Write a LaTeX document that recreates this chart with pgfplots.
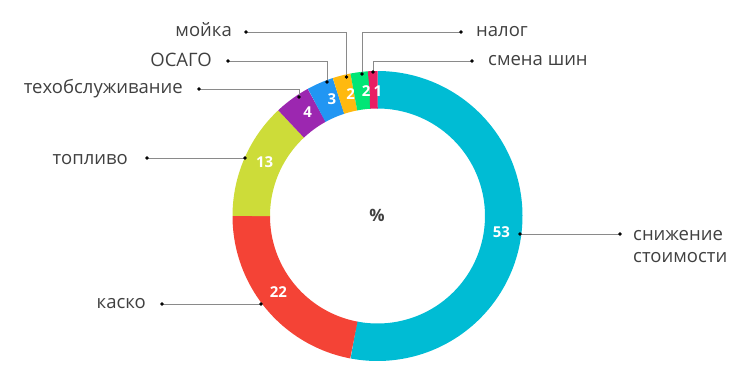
\documentclass[border=0pt]{standalone}
\usepackage{fontspec}
\setmainfont{Open Sans}
\usepackage{pgfplots}
\pgfplotsset{compat=1.18}
\definecolor{cA}{HTML}{00BCD4}
\definecolor{cB}{HTML}{F44336}
\definecolor{cC}{HTML}{CDDC39}
\definecolor{cD}{HTML}{9C27B0}
\definecolor{cE}{HTML}{2196F3}
\definecolor{cF}{HTML}{FFB90F}
\definecolor{cG}{HTML}{00E676}
\definecolor{cH}{HTML}{E91E63}
\definecolor{txt}{HTML}{404040}
\definecolor{lead}{HTML}{8A8A8A}
\def\donutcx{377.5}
\def\donutcy{162}
\tikzset{
  numlabel/.style={font=\fontsize{15}{17}\selectfont\bfseries,text=white,inner sep=0pt},
  lab/.style={font=\fontsize{18.5}{22}\selectfont,text=txt,inner sep=0pt}}
\pgfplotsset{leader/.style={lead,line width=0.7pt,mark=*,mark size=1.4pt,mark options={black,draw=black}}}
\begin{document}
\begin{tikzpicture}
\begin{axis}[width=741pt,height=378pt,scale only axis,
  xmin=0,xmax=741,ymin=0,ymax=378,hide axis,clip=false]
\path (rel axis cs:0,0) rectangle (rel axis cs:1,1);
% slices: value / colour, clockwise from the top
\def\cum{0}
\pgfplotsforeachungrouped \sv/\sc in {53/cA,22/cB,13/cC,4/cD,3/cE,2/cF,2/cG,1/cH}{%
  \pgfmathsetmacro\aS{90-3.6*(\cum+\sv)}%
  \pgfmathsetmacro\aE{90-3.6*\cum}%
  \edef\tmp{\noexpand\addplot[draw=\sc,line width=37.5pt,domain=\aS:\aE,samples=120]
    ({\donutcx+126.25*cos(x)},{\donutcy+126.25*sin(x)});}%
  \tmp
  \pgfmathsetmacro\cum{\cum+\sv}%
}
\def\cum{0}
\pgfplotsforeachungrouped \sv in {53,22,13,4,3,2,2,1}{%
  \pgfmathsetmacro\aM{90-3.6*(\cum+\sv/2)-2}%
  \pgfmathsetmacro\lx{\donutcx+125*cos(\aM)}%
  \pgfmathsetmacro\ly{\donutcy+125*sin(\aM)}%
  \edef\tmp{\noexpand\node[numlabel] at (axis cs:\lx,\ly) {\sv};}%
  \tmp
  \pgfmathsetmacro\cum{\cum+\sv}%
}
% leader lines
\addplot[leader,mark indices={1,3}] coordinates {(246,346)(346.5,346)(346.5,301)};
\addplot[leader,mark indices={1,3}] coordinates {(228,317)(327,317)(327,296)};
\addplot[leader,mark indices={1,3}] coordinates {(199,289)(299,289)(299,281)};
\addplot[leader,mark indices={1,3}] coordinates {(461,346)(362,346)(362,304)};
\addplot[leader,mark indices={1,3}] coordinates {(472,317)(373,317)(373,306)};
\addplot[leader] coordinates {(147,220)(245,220)};
\addplot[leader] coordinates {(162,74)(261,74)};
\addplot[leader] coordinates {(520,144)(620,144)};
% labels
\node[lab,anchor=base east] at (axis cs:232,341) {мойка};
\node[lab,anchor=base east] at (axis cs:212,311.5) {ОСАГО};
\node[lab,anchor=base east] at (axis cs:183,284.5) {техобслуживание};
\node[lab,anchor=base east] at (axis cs:128,214) {топливо};
\node[lab,anchor=base east] at (axis cs:146,70) {каско};
\node[lab,anchor=base west] at (axis cs:476,341) {налог};
\node[lab,anchor=base west] at (axis cs:488,312) {смена шин};
\node[lab,anchor=base west] at (axis cs:633,138) {снижение};
\node[lab,anchor=base west] at (axis cs:633,116) {стоимости};
\node[font=\fontsize{17}{19}\selectfont\bfseries,text=txt,inner sep=0pt] at (axis cs:377,163) {\%};
\end{axis}
\end{tikzpicture}
\end{document}
